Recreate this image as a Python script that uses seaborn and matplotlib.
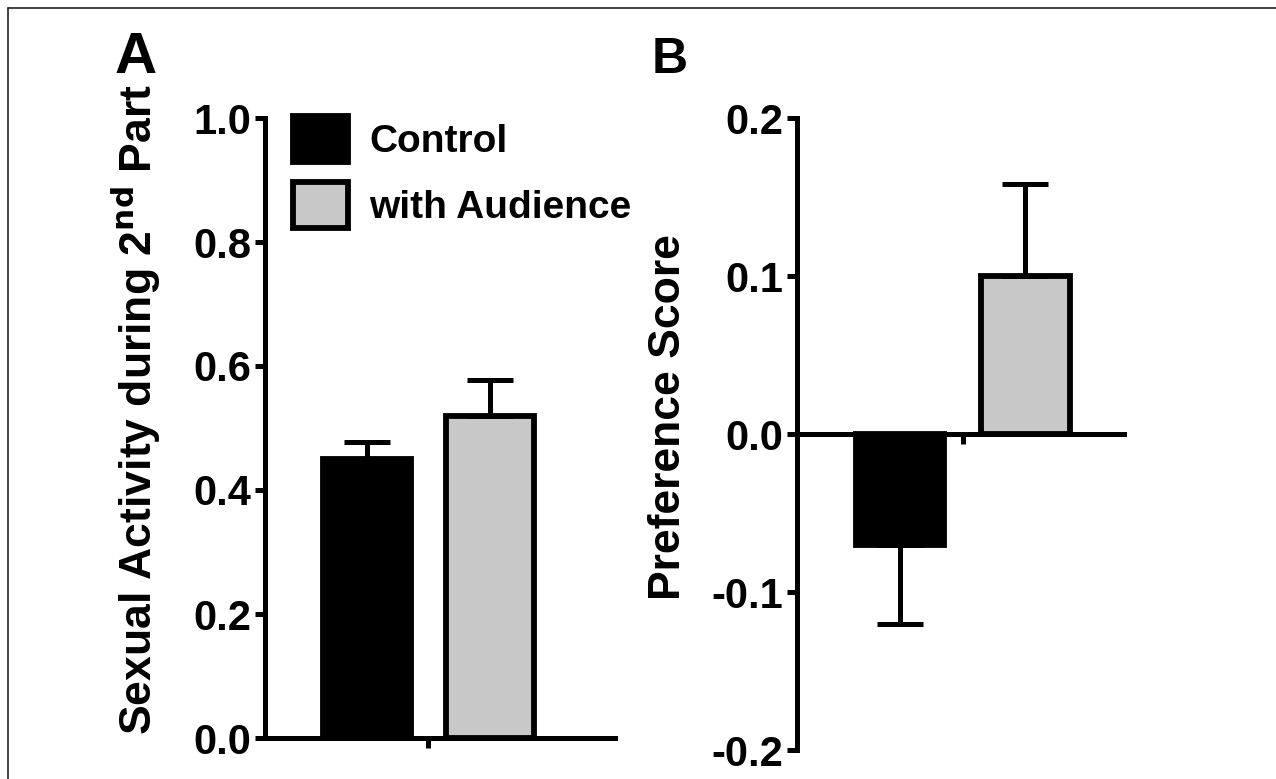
import matplotlib
matplotlib.use("Agg")
import matplotlib.pyplot as plt
import seaborn as sns
import pandas as pd
from matplotlib.lines import Line2D

# ---- data ----
groups = ["Control", "with Audience"]
activity_mean = [0.45, 0.52]
activity_sem = [0.028, 0.057]
pref_mean = [-0.07, 0.10]
pref_sem = [0.05, 0.058]
activity_ticks = [0.0, 0.2, 0.4, 0.6, 0.8, 1.0]
pref_ticks = [-0.2, -0.1, 0.0, 0.1, 0.2]
colors = ["#000000", "#c8c8c8"]

sns.set_style("ticks")
plt.rcParams["font.family"] = ["Liberation Sans", "DejaVu Sans"]
plt.rcParams["font.weight"] = "bold"
for k in ["text.color", "axes.labelcolor", "xtick.color", "ytick.color", "axes.edgecolor"]:
    plt.rcParams[k] = "black"

W, H = 1276, 779
fig = plt.figure(figsize=(W / 100, H / 100), dpi=100)

def fr(l, r, t, b):
    return [l / W, 1 - b / H, (r - l) / W, (b - t) / H]

axA = fig.add_axes(fr(265, 615, 118, 738))
axB = fig.add_axes(fr(797, 1124, 118, 750))

LW = 3.6
TICK_FS = 30

def draw(ax, means, sems, ticks, xlim, legend):
    df = pd.DataFrame({"group": groups, "value": means})
    sns.barplot(data=df, x="group", y="value", hue="group", palette=colors,
                width=0.71, edgecolor="black", linewidth=4.2, ax=ax,
                legend=legend, saturation=1)
    for i, (m, s) in enumerate(zip(means, sems)):
        lo = [s] if m < 0 else [0]
        hi = [0] if m < 0 else [s]
        ax.errorbar([i], [m], yerr=[lo, hi], fmt="none", ecolor="black",
                    elinewidth=LW, capsize=16.5, capthick=LW, zorder=1)
    ax.set_xlim(*xlim)
    ax.set_ylim(ticks[0], ticks[-1])
    ax.set_yticks(ticks)
    ax.set_yticklabels([f"{t:.1f}" for t in ticks], fontsize=TICK_FS, fontweight="bold")
    ax.set_xticks([0.5])
    ax.set_xticklabels([""])
    ax.set_xlabel("")
    for s in ["top", "right"]:
        ax.spines[s].set_visible(False)
    for s in ["left", "bottom"]:
        ax.spines[s].set_linewidth(LW)
        ax.spines[s].set_color("black")
    ax.tick_params(axis="both", width=LW, length=7, direction="out", pad=3,
                   colors="black")
    ax.set_facecolor("white")

draw(axA, activity_mean, activity_sem, activity_ticks, (-0.829, 2.016), True)
draw(axB, pref_mean, pref_sem, pref_ticks, (-0.824, 1.79), False)
axB.spines["bottom"].set_position(("data", 0))
axB.spines["bottom"].set_zorder(0.5)

axA.set_ylabel("Sexual Activity during 2$^{\\mathbf{nd}}$ Part", fontsize=32,
               fontweight="bold", color="black")
axB.set_ylabel("Preference Score", fontsize=32, fontweight="bold", color="black")
axA.yaxis.set_label_coords(-(265 - 163) / 350, (738 - 410) / 620)
axB.yaxis.set_label_coords(-(797 - 689) / 327, (750 - 417) / 632)

leg = axA.legend(loc="upper left", bbox_to_anchor=(293 / W, 1 - 116 / H),
                 bbox_transform=fig.transFigure, frameon=False,
                 prop={"size": 28, "weight": "bold"}, handlelength=1.41,
                 handleheight=1.45, labelspacing=0.5, handletextpad=0.55,
                 borderpad=0, borderaxespad=0)
for h in leg.legend_handles:
    h.set_edgecolor("black")
    h.set_linewidth(4.2)
for t in leg.get_texts():
    t.set_color("black")

fig.text(136 / W, 1 - 73 / H, "A", fontsize=42, fontweight="bold", ha="center",
         va="baseline", color="black")
fig.text(670 / W, 1 - 73 / H, "B", fontsize=36, fontweight="bold", ha="center",
         va="baseline", color="black")

# figure frame (top and left edges)
fig.add_artist(Line2D([8 / W, 1], [1 - 8 / H, 1 - 8 / H], transform=fig.transFigure,
                      color="#222222", lw=1.2))
fig.add_artist(Line2D([8 / W, 8 / W], [0, 1 - 8 / H], transform=fig.transFigure,
                      color="#222222", lw=1.2))

fig.savefig("out.png", dpi=100, facecolor="white")
